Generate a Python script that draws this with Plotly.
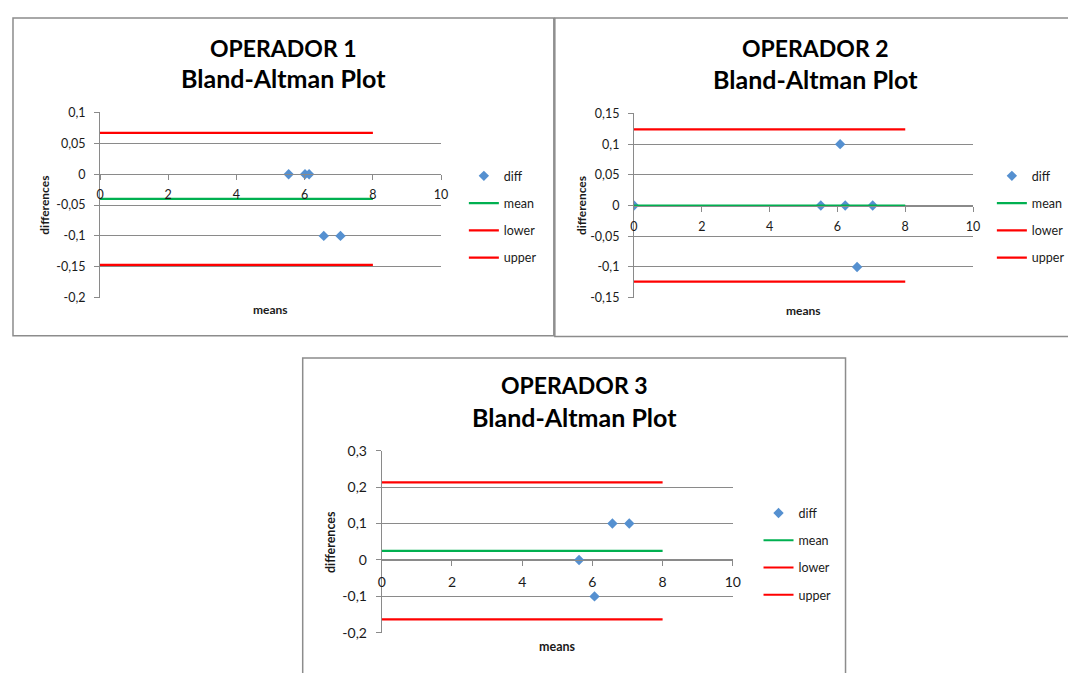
import plotly.graph_objects as go

# ---------------- data ----------------
op1_means = [5.53, 6.01, 6.13, 6.56, 7.05]
op1_diffs = [0.0, 0.0, 0.0, -0.1, -0.1]
op1_mean, op1_lower, op1_upper = -0.04, -0.147, 0.067

op2_means = [0.0, 5.51, 6.08, 6.23, 7.04, 6.58]
op2_diffs = [0.0, 0.0, 0.1, 0.0, 0.0, -0.1]
op2_mean, op2_lower, op2_upper = 0.0, -0.124, 0.124

op3_means = [5.62, 6.06, 6.57, 7.05]
op3_diffs = [0.0, -0.1, 0.1, 0.1]
op3_mean, op3_lower, op3_upper = 0.025, -0.163, 0.213

line_x = [0, 8]

x_ticks = [0, 2, 4, 6, 8, 10]
x_ticktext = ["0", "2", "4", "6", "8", "10"]

op1_yticks = [0.1, 0.05, 0, -0.05, -0.1, -0.15, -0.2]
op1_yticktext = ["0,1", "0,05", "0", "-0,05", "-0,1", "-0,15", "-0,2"]
op2_yticks = [0.15, 0.1, 0.05, 0, -0.05, -0.1, -0.15]
op2_yticktext = ["0,15", "0,1", "0,05", "0", "-0,05", "-0,1", "-0,15"]
op3_yticks = [0.3, 0.2, 0.1, 0, -0.1, -0.2]
op3_yticktext = ["0,3", "0,2", "0,1", "0", "-0,1", "-0,2"]

titles = ["OPERADOR 1", "OPERADOR 2", "OPERADOR 3"]
subtitle = "Bland-Altman Plot"
series_names = ["diff", "mean", "lower", "upper"]

# ---------------- styling ----------------
# The page body keeps the browser's default 8px margin: the figure starts
# 8px in and runs to the window's right and bottom edges.
PAGE_W, PAGE_H = 1076, 673
OFF = 8
W, H = PAGE_W - OFF, PAGE_H - OFF
FONT = "Lato"
GRID = "#8a8a8a"
BLUE = "#5590d0"
GREEN = "#00b050"
RED = "#ff0000"
TXT = "#1a1a1a"


def px(x):
    return (x - OFF) / W


def py(y):
    return 1 - (y - OFF) / H


panels = [
    dict(box=(9, 9, 556, 335), plot=(97, 106, 442, 296), yr=(-0.2, 0.1),
         means=op1_means, diffs=op1_diffs, stats=(op1_mean, op1_lower, op1_upper),
         yticks=op1_yticks, yticktext=op1_yticktext, tfs=12.5, ttl=12,
         title_y=(40, 71), leg=(465, 156), ytitle_x=40, xtitle_y=308),
    dict(box=(557, 9, 1085, 336), plot=(637, 107, 980, 296), yr=(-0.15, 0.15),
         means=op2_means, diffs=op2_diffs, stats=(op2_mean, op2_lower, op2_upper),
         yticks=op2_yticks, yticktext=op2_yticktext, tfs=12.5, ttl=12,
         title_y=(40, 72), leg=(999, 156), ytitle_x=584, xtitle_y=309),
    dict(box=(302, 358, 851, 700), plot=(382, 453, 737, 640), yr=(-0.2, 0.3),
         means=op3_means, diffs=op3_diffs, stats=(op3_mean, op3_lower, op3_upper),
         yticks=op3_yticks, yticktext=op3_yticktext, tfs=14, ttl=12.5,
         title_y=(386, 418), leg=(763, 502), ytitle_x=330, xtitle_y=654),
]

fig = go.Figure()
shapes = []
annotations = []
layout_extra = {}

for i, p in enumerate(panels):
    n = i + 1
    xa = "x" if n == 1 else f"x{n}"
    ya = "y" if n == 1 else f"y{n}"
    lg = "legend" if n == 1 else f"legend{n}"
    mean, lower, upper = p["stats"]

    fig.add_trace(go.Scatter(
        x=p["means"], y=p["diffs"], mode="markers", name=series_names[0],
        marker=dict(symbol="diamond", size=8, color=BLUE),
        xaxis=xa, yaxis=ya, legend=lg, legendgroup=f"a{n}"))
    for nm, val, col in [(series_names[1], mean, GREEN),
                         (series_names[2], lower, RED),
                         (series_names[3], upper, RED)]:
        fig.add_trace(go.Scatter(
            x=line_x, y=[val] * len(line_x), mode="lines", name=nm,
            line=dict(color=col, width=2.2),
            xaxis=xa, yaxis=ya, legend=lg, legendgroup=f"{nm}{n}"))

    x0, y0, x1, y1 = p["plot"]
    ymin, ymax = p["yr"]
    zero_px = y0 + (ymax - 0) / (ymax - ymin) * (y1 - y0)
    eps = (ymax - ymin) * 1e-6

    xkey = "xaxis" if n == 1 else f"xaxis{n}"
    ykey = "yaxis" if n == 1 else f"yaxis{n}"
    layout_extra[xkey] = dict(
        domain=[px(x0), px(x1)], range=[0, 10.0001], anchor="free",
        position=py(zero_px), showgrid=False, zeroline=False,
        showline=True, linecolor=GRID, linewidth=1,
        ticks="outside", ticklen=5, tickcolor=GRID, ticklabelstandoff=4,
        tickvals=x_ticks, ticktext=x_ticktext,
        tickfont=dict(family=FONT, size=p["tfs"], color=TXT), fixedrange=True)
    layout_extra[ykey] = dict(
        domain=[py(y1), py(y0)], range=[ymin - eps, ymax + eps], anchor=xa,
        showgrid=True, gridcolor=GRID, gridwidth=1, zeroline=False,
        showline=True, linecolor=GRID, linewidth=1,
        ticks="outside", ticklen=5, tickcolor=GRID, ticklabelstandoff=6,
        tickvals=p["yticks"], ticktext=p["yticktext"],
        tickfont=dict(family=FONT, size=p["tfs"], color=TXT), fixedrange=True)

    lx, ly = p["leg"]
    layout_extra[lg] = dict(
        x=px(lx), y=py(ly), xanchor="left", yanchor="top",
        bgcolor="rgba(0,0,0,0)", traceorder="grouped", tracegroupgap=8,
        font=dict(family=FONT, size=12.5, color=TXT))

    bx0, by0, bx1, by1 = p["box"]
    shapes.append(dict(type="rect", xref="paper", yref="paper",
                       x0=px(bx0), x1=px(bx1), y0=py(by1), y1=py(by0),
                       line=dict(color="#8c8c8c", width=1.5),
                       fillcolor="rgba(0,0,0,0)", layer="below"))

    cx = (bx0 + bx1) / 2
    ty1, ty2 = p["title_y"]
    annotations.append(dict(text=titles[i], x=px(cx), y=py(ty1), xref="paper",
                            yref="paper", showarrow=False, xanchor="center",
                            yanchor="middle",
                            font=dict(family=FONT, size=23, color="#000000",
                                      weight="bold")))
    annotations.append(dict(text=subtitle, x=px(cx), y=py(ty2), xref="paper",
                            yref="paper", showarrow=False, xanchor="center",
                            yanchor="middle",
                            font=dict(family=FONT, size=25, color="#000000",
                                      weight="bold")))
    annotations.append(dict(text="means", x=px((x0 + x1) / 2), y=py(p["xtitle_y"]),
                            xref="paper", yref="paper", showarrow=False,
                            xanchor="center", yanchor="middle",
                            font=dict(family=FONT, size=p["ttl"], color=TXT,
                                      weight="bold")))
    annotations.append(dict(text="differences", x=px(p["ytitle_x"]),
                            y=py((y0 + y1) / 2), xref="paper", yref="paper",
                            showarrow=False, textangle=-90, xanchor="center",
                            yanchor="middle",
                            font=dict(family=FONT, size=p["ttl"], color=TXT,
                                      weight="bold")))

fig.update_layout(
    width=W, height=H, autosize=False,
    margin=dict(l=0, r=0, t=0, b=0, pad=0),
    paper_bgcolor="white", plot_bgcolor="rgba(0,0,0,0)",
    showlegend=True, shapes=shapes, annotations=annotations,
    **layout_extra)

fig.write_html("out.html", config={"displayModeBar": False})
